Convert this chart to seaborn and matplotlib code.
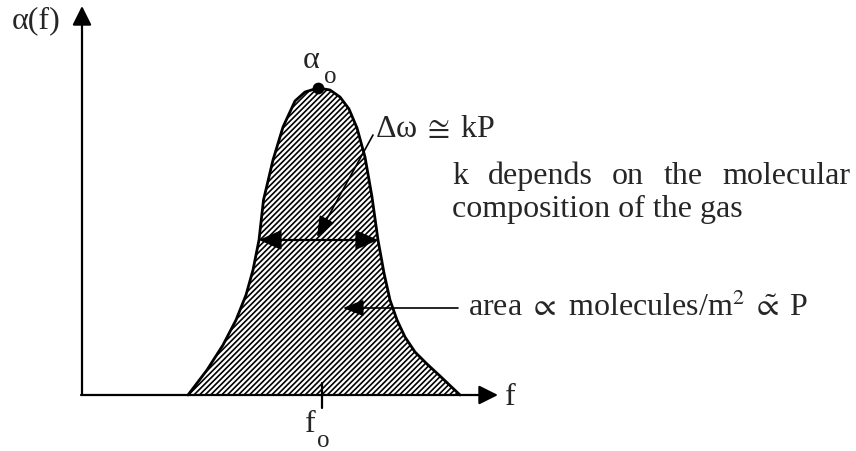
import matplotlib
matplotlib.use("Agg")
import matplotlib.pyplot as plt
import seaborn as sns

sns.set_theme(style="white")
plt.rcParams["font.family"] = ["Liberation Serif", "DejaVu Serif"]
plt.rcParams["mathtext.fontset"] = "stix"
plt.rcParams["hatch.linewidth"] = 1.2

# Absorption line outline: frequency f vs. absorption alpha(f), arbitrary units
freq = [1.06, 1.25, 1.41, 1.54, 1.64, 1.71, 1.77, 1.815, 1.91, 2.01, 2.13, 2.23,
        2.36, 2.48, 2.58, 2.67, 2.75, 2.83, 2.90, 2.96, 3.02, 3.08, 3.15, 3.23,
        3.33, 3.45, 3.58, 3.78]
alpha = [0.00, 0.25, 0.50, 0.75, 1.00, 1.25, 1.55, 1.95, 2.35, 2.68, 2.94, 3.03,
         3.07, 3.05, 2.98, 2.86, 2.67, 2.38, 1.98, 1.55, 1.22, 0.95, 0.75, 0.58,
         0.43, 0.31, 0.19, 0.00]

f0 = 2.40            # line centre frequency
peak = (2.36, 3.07)  # alpha_o
half_left, half_right, half_level = 1.77, 2.96, 1.55  # width at half maximum

fig = plt.figure(figsize=(8.56, 4.51), dpi=100)
ax = fig.add_axes([0, 0, 1, 1])
ax.set_xlim(-0.82, 7.74)
ax.set_ylim(-0.56, 3.95)
ax.axis("off")

# hatched area under the line
ax.fill_between(freq, alpha, 0, facecolor="white", edgecolor="black",
                hatch="//////", linewidth=0, zorder=1)
sns.lineplot(x=freq, y=alpha, sort=False, color="black", lw=2, ax=ax, zorder=3)
ax.scatter([peak[0]], [peak[1]], s=55, color="black", zorder=4)

# axes with arrow heads
axis_arrow = dict(arrowstyle="-|>,head_length=0.4,head_width=0.2",
                  mutation_scale=29, color="black", lw=1.6,
                  shrinkA=0, shrinkB=0)
ax.annotate("", xy=(0, 3.89), xytext=(0, 0), arrowprops=axis_arrow)
ax.annotate("", xy=(4.16, 0), xytext=(-0.01, 0), arrowprops=axis_arrow)

# centre frequency tick
ax.plot([f0, f0], [0.12, -0.13], color="black", lw=1.6)

# width arrow
ax.annotate("", xy=(half_right, half_level), xytext=(half_left, half_level),
            arrowprops=dict(arrowstyle="<|-|>,head_length=0.45,head_width=0.2",
                            mutation_scale=30, color="black", lw=1.6,
                            shrinkA=0, shrinkB=0))
# pointer from the width label
ax.annotate("", xy=(2.35, 1.58), xytext=(2.91, 2.60),
            arrowprops=dict(arrowstyle="-|>,head_length=0.45,head_width=0.18",
                            mutation_scale=28, color="black", lw=1.2,
                            shrinkA=0, shrinkB=0))
# pointer from the area label
ax.annotate("", xy=(2.61, 0.87), xytext=(3.76, 0.87),
            arrowprops=dict(arrowstyle="-|>,head_length=0.45,head_width=0.18",
                            mutation_scale=28, color="black", lw=1.2,
                            shrinkA=0, shrinkB=0))

fs, fs_sub = 23, 18
ax.text(-0.70, 3.67, "α(f)", fontsize=fs, va="baseline")
ax.text(4.23, -0.10, "f", fontsize=fs, va="baseline")
ax.text(2.21, 3.27, "α", fontsize=fs, va="baseline")
ax.text(2.42, 3.12, "o", fontsize=fs_sub, va="baseline")
ax.text(2.23, -0.37, "f", fontsize=fs, va="baseline")
ax.text(2.35, -0.52, "o", fontsize=fs_sub, va="baseline")
ax.text(2.93, 2.58, r"Δω$\;\cong\;$kP", fontsize=fs, va="baseline")
ax.text(3.70, 1.78, "composition of the gas", fontsize=fs, va="baseline")
ax.text(3.86, 0.79,
        r"area $\propto$ molecules/m$^{2}$$\;\tilde{\propto}\;$P",
        fontsize=fs, va="baseline")

# justified first line of the note
words = ["k", "depends", "on", "the", "molecular"]
x_left, x_right, y_line = 3.70, 7.68, 2.11
fig.canvas.draw()
renderer = fig.canvas.get_renderer()
inv = ax.transData.inverted()
texts = [ax.text(0, y_line, w, fontsize=fs, va="baseline") for w in words]
widths = []
for t in texts:
    bb = t.get_window_extent(renderer)
    (x0, _), (x1, _) = inv.transform([(bb.x0, bb.y0), (bb.x1, bb.y0)])
    widths.append(x1 - x0)
gap = (x_right - x_left - sum(widths)) / (len(words) - 1)
x = x_left
for t, w in zip(texts, widths):
    t.set_x(x)
    x += w + gap

fig.savefig("out.png", dpi=100, facecolor="white")
